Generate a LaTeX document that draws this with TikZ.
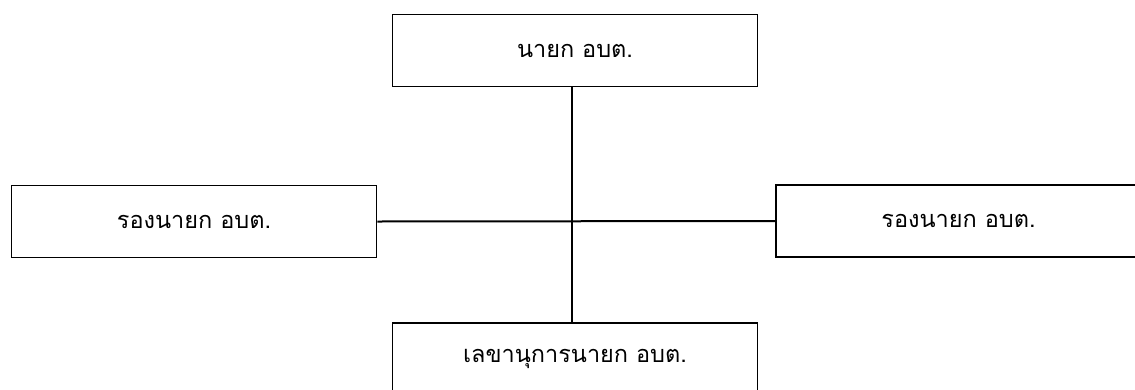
\documentclass[tikz,border=0pt]{standalone}
\usepackage{fontspec}
\newfontfamily\thaifont[Script=Thai]{Loma}
\newcommand{\boxtext}[1]{\raisebox{-3pt}{#1}}
\begin{document}
\begin{tikzpicture}[x=1pt,y=-1pt,
  orgbox/.style={draw=black, line width=1.8pt, fill=white, minimum width=365pt, minimum height=72pt, inner sep=0pt, font=\thaifont\fontsize{23.5}{28}\selectfont},
  link/.style={draw=black, line width=2pt}]
\clip (0,0) rectangle (1135,389);
\fill[white] (0,0) rectangle (1135,389);
\node[orgbox] (top) at (575,50.5) {\boxtext{นายก อบต.}};
\node[orgbox] (left) at (194,221.5) {\boxtext{รองนายก อบต.}};
\node[orgbox] (right) at (958.5,221) {\boxtext{รองนายก อบต.}};
\node[orgbox] (bot) at (575,359) {\boxtext{เลขานุการนายก อบต.}};
\coordinate (vx) at (572,0);
\draw[link] (top.south -| vx) -- (bot.north -| vx);
\draw[link] (left.east) -- (right.west);
\end{tikzpicture}
\end{document}
